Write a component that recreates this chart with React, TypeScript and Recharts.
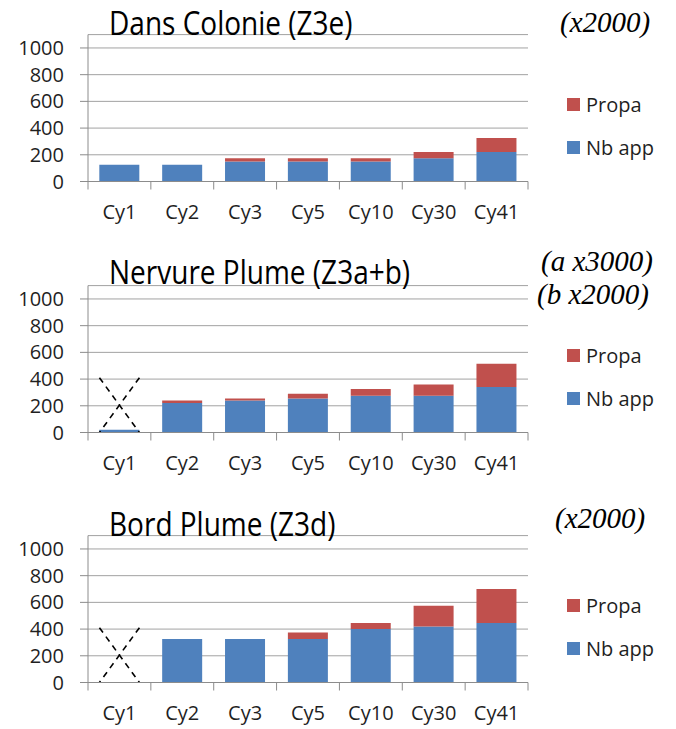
import React from "react";
import {
  Bar,
  BarChart,
  CartesianGrid,
  Legend,
  ReferenceLine,
  XAxis,
  YAxis,
} from "recharts";

const categories = ["Cy1", "Cy2", "Cy3", "Cy5", "Cy10", "Cy30", "Cy41"];
const yTicks = [0, 200, 400, 600, 800, 1000];

const colonieNbApp = [125, 125, 150, 150, 150, 175, 220];
const coloniePropa = [0, 0, 25, 25, 25, 45, 105];

const nervureNbApp = [20, 220, 240, 255, 275, 275, 340];
const nervurePropa = [0, 20, 15, 35, 50, 85, 175];

const bordNbApp = [0, 325, 325, 325, 400, 420, 445];
const bordPropa = [0, 0, 0, 50, 45, 155, 255];

// height of the dashed cross drawn over Cy1 (value units)
const crossTop = 410;

const BLUE = "#4f81bd";
const RED = "#c0504d";
const GRID = "#a2a2a2";
const AXIS = "#8c8c8c";
const TEXT = "#1f1f1f";
const FONT = "'Open Sans', sans-serif";
const SERIF = "'Liberation Serif', 'Times New Roman', serif";

const W = 676;
const H = 228;
const MARGIN = { top: 34.6, right: 148, bottom: 6.5, left: 18 };
const Y_AXIS_W = 70;
const X_AXIS_H = 40;
const PLOT_W = W - MARGIN.left - MARGIN.right - Y_AXIS_W;
const BAND = PLOT_W / categories.length;
const BAR_W = 40;

function CategoryTick(props: any) {
  const { x, y, payload, index } = props;
  const left = x - BAND / 2;
  const right = x + BAND / 2;
  return (
    <g>
      <line x1={left} y1={y - 8} x2={left} y2={y} stroke={AXIS} />
      {index === categories.length - 1 && (
        <line x1={right} y1={y - 8} x2={right} y2={y} stroke={AXIS} />
      )}
      <text
        x={x}
        y={y + 22}
        textAnchor="middle"
        dominantBaseline="central"
        fill={TEXT}
        fontSize={20}
        fontFamily={FONT}
      >
        {payload.value}
      </text>
    </g>
  );
}

function CrossShape(props: any) {
  const { x1, y1, y2 } = props;
  const hw = BAR_W / 2;
  return (
    <g stroke="#000" strokeWidth={1.6} strokeDasharray="6 5" fill="none">
      <line x1={x1 - hw} y1={y1} x2={x1 + hw} y2={y2} />
      <line x1={x1 + hw} y1={y1} x2={x1 - hw} y2={y2} />
    </g>
  );
}

function LegendBox(props: any) {
  const items = [...(props.payload || [])].reverse();
  return (
    <div style={{ fontFamily: FONT, fontSize: 20, color: TEXT }}>
      {items.map((it: any, i: number) => (
        <div
          key={it.value}
          style={{
            display: "flex",
            alignItems: "center",
            height: 28,
            marginTop: i === 0 ? 0 : 15,
            whiteSpace: "nowrap",
          }}
        >
          <span
            style={{
              display: "inline-block",
              width: 13,
              height: 13,
              background: it.color,
              marginRight: 6,
            }}
          />
          {it.value}
        </div>
      ))}
    </div>
  );
}

interface PanelProps {
  nbApp: number[];
  propa: number[];
  crossed?: boolean;
}

function Panel({ nbApp, propa, crossed = false }: PanelProps) {
  const data = categories.map((c, i) => ({ cycle: c, nbApp: nbApp[i], propa: propa[i] }));
  return (
    <BarChart width={W} height={H} data={data} margin={MARGIN} barCategoryGap="18%">
      <CartesianGrid vertical={false} stroke={GRID} />
      <XAxis
        dataKey="cycle"
        height={X_AXIS_H}
        interval={0}
        tickLine={false}
        tickSize={8}
        tickMargin={0}
        axisLine={{ stroke: AXIS }}
        tick={<CategoryTick />}
      />
      <YAxis
        width={Y_AXIS_W}
        domain={[0, 1100]}
        ticks={yTicks}
        interval={0}
        tickSize={8}
        tickMargin={16}
        tickLine={{ stroke: AXIS }}
        axisLine={{ stroke: AXIS }}
        tick={{ fill: TEXT, fontSize: 20, fontFamily: FONT }}
      />
      <Legend
        layout="vertical"
        align="center"
        verticalAlign="middle"
        wrapperStyle={{ left: 567, top: 90, width: 109 }}
        content={<LegendBox />}
      />
      <Bar dataKey="nbApp" name="Nb app" stackId="s" fill={BLUE} isAnimationActive={false} />
      <Bar dataKey="propa" name="Propa" stackId="s" fill={RED} isAnimationActive={false} />
      {crossed && (
        <ReferenceLine
          segment={[
            { x: categories[0], y: crossTop },
            { x: categories[0], y: 0 },
          ]}
          shape={CrossShape}
        />
      )}
    </BarChart>
  );
}

const titleStyle: React.CSSProperties = {
  position: "absolute",
  left: 109,
  fontFamily: FONT,
  fontSize: 28,
  lineHeight: "28px",
  color: "#000",
  whiteSpace: "nowrap",
  transform: "scaleY(1.15)",
  transformOrigin: "left 85%",
};

const noteStyle: React.CSSProperties = {
  position: "absolute",
  fontFamily: SERIF,
  fontStyle: "italic",
  fontSize: 29,
  lineHeight: "29px",
  color: "#000",
  whiteSpace: "nowrap",
};

export default function App() {
  return (
    <div
      style={{
        position: "absolute",
        left: 0,
        top: 0,
        width: 676,
        height: 729,
        overflow: "hidden",
        background: "#fff",
      }}
    >
      <div style={{ position: "absolute", left: 0, top: 0 }}>
        <Panel nbApp={colonieNbApp} propa={coloniePropa} />
      </div>
      <div style={{ position: "absolute", left: 0, top: 251 }}>
        <Panel nbApp={nervureNbApp} propa={nervurePropa} crossed />
      </div>
      <div style={{ position: "absolute", left: 0, top: 501 }}>
        <Panel nbApp={bordNbApp} propa={bordPropa} crossed />
      </div>

      <div style={{ ...titleStyle, top: 10 }}>Dans Colonie (Z3e)</div>
      <div style={{ ...titleStyle, top: 259 }}>Nervure Plume (Z3a+b)</div>
      <div style={{ ...titleStyle, top: 511 }}>Bord Plume (Z3d)</div>

      <div style={{ ...noteStyle, left: 560, top: 8 }}>(x2000)</div>
      <div style={{ ...noteStyle, left: 541, top: 247 }}>(a x3000)</div>
      <div style={{ ...noteStyle, left: 537, top: 280 }}>(b x2000)</div>
      <div style={{ ...noteStyle, left: 555, top: 504 }}>(x2000)</div>
    </div>
  );
}
